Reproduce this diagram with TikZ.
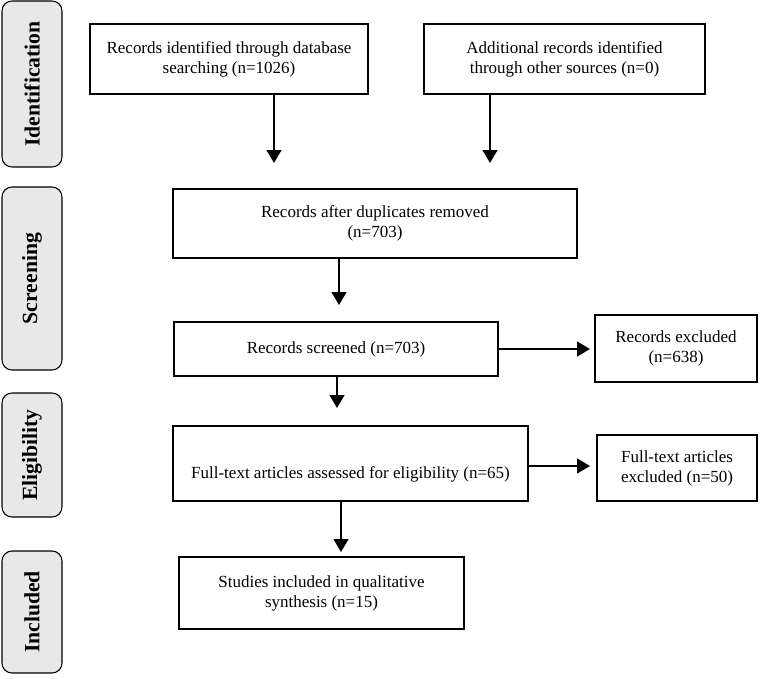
\documentclass[tikz,border=0pt]{standalone}
\usepackage{fontspec}
\setmainfont{Liberation Serif}
\usetikzlibrary{arrows.meta,positioning}

\tikzset{
    box/.style={draw, line width=1.1pt, align=center, inner sep=2pt,
                font=\fontsize{14.5}{17}\selectfont},
    sz/.style 2 args={minimum width=#1*0.03cm, minimum height=#2*0.03cm},
    stage/.style={draw, line width=0.9pt, rounded corners=0.3cm, fill=gray!18,
                  rotate=90, font=\bfseries\fontsize{18.5}{22}\selectfont},
    arr/.style={-{Triangle[length=11pt,width=12.5pt]}, line width=1.7pt}
}

\begin{document}
\begin{tikzpicture}[x=0.03cm,y=-0.03cm]
    \useasboundingbox (0,0) rectangle (763,678);   % page size

    % Stage labels on the left
    \node[stage, sz={166}{60}] (ident)  at (32,84)    {Identification};
    \node[stage, sz={183}{60}] (screen) at (32,278.5) {Screening};
    \node[stage, sz={124}{60}] (elig)   at (32,455)   {Eligibility};
    \node[stage, sz={122}{60}] (inc)    at (32,612)   {Included};

    % Flow boxes
    \node[box, sz={278}{70}] (dbsearch) at (229,59)    {Records identified through database\\searching (n=1026)};
    \node[box, sz={281}{70}] (othersrc) at (564.5,59)  {Additional records identified\\through other sources (n=0)};
    \node[box, sz={404}{69}] (dupl)     at (375,223.5) {Records after duplicates removed\\(n=703)};
    \node[box, sz={324}{54}] (screened) at (336,349)   {Records screened (n=703)};
    \node[box, sz={162}{67}] (recexcl)  at (676,348.5) {Records excluded\\(n=638)};
    \node[box, sz={355}{75}] (fulltext) at (350.5,463.5) {\strut\\Full-text articles assessed for eligibility (n=65)};
    \node[box, sz={160}{66}] (ftexcl)   at (677,468)   {Full-text articles\\excluded (n=50)};
    \node[box, sz={285}{72}] (included) at (321.5,593) {Studies included in qualitative\\synthesis (n=15)};

    % Arrow ends
    \coordinate (e1) at (274,163);
    \coordinate (e2) at (490,163);
    \coordinate (e3) at (339,305);
    \coordinate (e4) at (337,408);
    \coordinate (e5) at (341,552);
    \coordinate (e6) at (590,349);
    \coordinate (e7) at (590,466);

    % Arrows
    \draw[arr] (e1 |- dbsearch.south) -- (e1);
    \draw[arr] (e2 |- othersrc.south) -- (e2);
    \draw[arr] (e3 |- dupl.south)     -- (e3);
    \draw[arr] (e4 |- screened.south) -- (e4);
    \draw[arr] (e5 |- fulltext.south) -- (e5);
    \draw[arr] (screened.east |- e6)  -- (e6);
    \draw[arr] (fulltext.east |- e7)  -- (e7);
\end{tikzpicture}
\end{document}
